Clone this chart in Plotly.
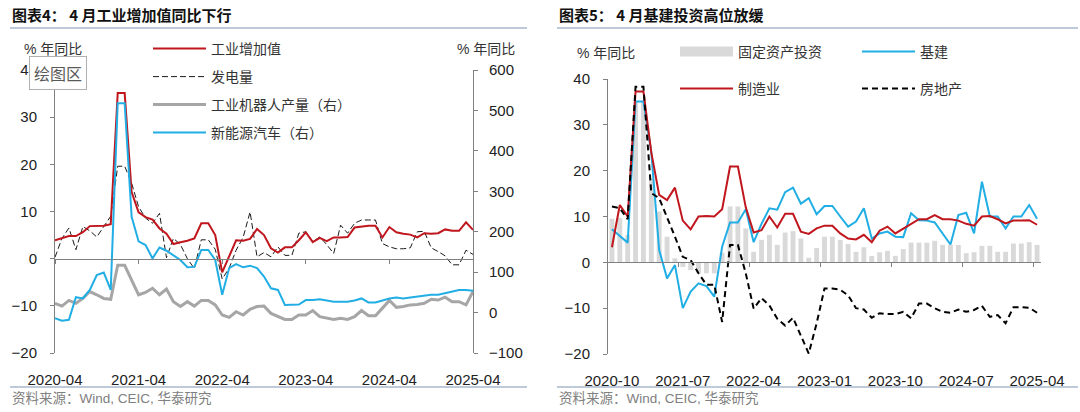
import plotly.graph_objects as go
import pandas as pd

W, H = 1080, 412

# ---------------- data: left chart (2020-04 .. 2025-04) ----------------
months_left = [p.strftime('%Y-%m') for p in pd.period_range('2020-04', '2025-04', freq='M')]
ticks_left = ['2020-04', '2021-04', '2022-04', '2023-04', '2024-04', '2025-04']

iva = [3.9, 4.4, 4.8, 4.8, 5.6, 6.9, 6.9, 7.0, 7.3,
       35.1, 35.1, 14.1, 9.8, 8.8, 8.3, 6.4, 5.3, 3.1, 3.5, 3.8, 4.3,
       7.5, 7.5, 5.0, -2.9, 0.7, 3.9, 3.8, 4.2, 6.3, 5.0, 2.2, 1.3,
       2.4, 2.4, 3.9, 5.6, 3.5, 4.4, 3.7, 4.5, 4.5, 4.6, 6.6, 6.8,
       7.0, 7.0, 4.5, 6.7, 5.6, 5.3, 5.1, 4.5, 5.4, 5.3, 5.4, 6.2,
       5.9, 5.9, 7.7, 6.1]
power = [0.3, 4.3, 6.5, 1.9, 6.8, 5.9, 4.6, 6.8, 9.0,
         19.6, 19.6, 16.0, 11.0, 8.6, 7.5, 9.6, 0.2, 4.3, 3.0, 0.0, -2.1,
         4.0, 4.0, 2.0, -4.3, -2.0, 1.8, 4.5, 9.9, 0.4, 1.3, 0.4, 2.5,
         0.7, 0.7, 5.4, 5.7, 3.6, 4.6, 3.0, 1.1, 7.1, 5.4, 7.5, 8.2,
         8.2, 8.2, 3.2, 2.5, 2.1, 2.1, 2.3, 5.7, 5.8, 2.3, 1.5, 0.6,
         -1.3, -1.3, 1.8, 0.9]
robot = [23, 16, 30, 23, 35, 52, 44, 35, 33,
         117, 117, 81, 44, 50, 60, 44, 58, 27, 15, 27, 16,
         30, 30, 19, -6, -12, 2, -6, 8, 15, 16, -2, -10,
         -17, -17, -6, -6, 5, -10, -14, -17, -14, -17, -10, 5,
         -8, -8, 11, 30, 13, 15, 19, 20, 23, 33, 31, 38,
         27, 27, 19, 52]
nev = [-14, -20, -18, 38, 35, 56, 93, 99, 56,
       518, 518, 237, 176, 167, 134, 161, 153, 142, 130, 112, 113,
       155, 155, 130, 44, 110, 120, 112, 116, 110, 89, 60, 56,
       19, 19, 20, 31, 31, 33, 30, 27, 27, 27, 30, 35,
       25, 25, 30, 35, 37, 35, 37, 39, 41, 44, 44, 48,
       52, 56, 56, 54]

# ---------------- data: right chart (2020-10 .. 2025-04) ----------------
months_right = [p.strftime('%Y-%m') for p in pd.period_range('2020-10', '2025-04', freq='M')]
ticks_right = ['2020-10', '2021-07', '2022-04', '2023-01', '2023-10', '2024-07', '2025-04']

fai = [9.5, 9.7, 6.0,
       35.0, 35.0, 18.3, 11.1, 5.6, 0.9, -1.0, -1.7, -2.4, -2.4, -2.4, 2.1,
       12.2, 12.2, 7.4, 2.3, 4.9, 6.0, 3.8, 6.5, 6.8, 5.2, 1.0, 3.1,
       5.6, 5.6, 4.9, 4.0, 2.3, 3.3, 1.4, 2.2, 2.5, 1.4, 2.9, 4.3,
       4.3, 4.3, 4.7, 3.8, 3.8, 3.8, 2.0, 2.2, 3.6, 3.6, 2.3, 2.3,
       4.1, 4.1, 4.4, 3.8]
infra = [7.2, 5.8, 4.3,
         35.1, 35.1, 24.0, 2.7, -3.5, -0.6, -10.0, -6.4, -4.6, -5.2, -7.5, 3.4,
         8.7, 8.7, 11.6, 4.4, 8.4, 11.8, 11.5, 15.3, 16.3, 12.8, 14.0, 10.5,
         12.3, 12.3, 10.0, 7.8, 8.9, 11.8, 5.2, 6.3, 6.7, 5.6, 5.5, 10.7,
         9.2, 9.1, 8.7, 6.3, 3.9, 10.3, 10.8, 6.3, 17.6, 10.0, 10.0, 7.4,
         10.0, 10.0, 12.5, 9.5]
mfg = [3.3, 12.5, 10.0,
       37.3, 37.3, 24.0, 14.7, 13.6, 16.3, 9.1, 7.2, 10.0, 10.1, 10.0, 11.6,
       20.9, 20.9, 12.0, 6.5, 7.0, 10.0, 7.6, 10.6, 10.6, 6.7, 6.2, 7.4,
       8.0, 8.0, 6.3, 5.2, 5.0, 6.0, 4.4, 6.9, 7.8, 6.3, 7.3, 8.3,
       9.4, 9.4, 10.3, 9.4, 9.4, 9.1, 8.4, 8.0, 10.0, 10.1, 9.4, 8.5,
       9.1, 9.1, 9.2, 8.2]
realestate = [12.2, 11.8, 9.4,
              38.3, 38.3, 15.1, 14.0, 10.0, 5.6, 1.2, 0.5, -2.4, -4.9, -4.9, -13.0,
              3.8, 3.8, -2.4, -10.1, -7.8, -9.4, -12.3, -13.8, -12.1, -16.0, -19.9, -13.3,
              -5.7, -5.7, -6.0, -7.2, -10.0, -10.3, -12.1, -11.1, -11.3, -11.3, -10.8, -12.2,
              -9.0, -9.0, -10.0, -10.8, -11.0, -10.3, -10.8, -10.4, -9.5, -11.9, -11.5, -13.3,
              -9.8, -9.8, -9.9, -11.0]

# ---------------- styling ----------------
RED = '#C0161D'
BLUE = '#21AEE4'
GRAY = '#A6A6A6'
BARC = '#D9D9D9'
AX = '#808080'
TXT = '#222222'
NUMF = 'Liberation Sans, Arial, sans-serif'
CJK = 'Noto Sans CJK SC, sans-serif'
MIX = 'Liberation Sans, Noto Sans CJK SC, sans-serif'
RULE = '#A9B8CC'

xl = list(range(len(months_left)))
xr = list(range(len(months_right)))
tv_left = [months_left.index(t) for t in ticks_left]
tv_right = [months_right.index(t) for t in ticks_right]


def px_x(p):
    return p / W


def px_y(p):
    return 1 - p / H


# domains
ly_dom = [px_y(353), px_y(70)]
lx_dom = [px_x(55), px_x(473)]
ry_dom = [px_y(354), px_y(79)]
rx_dom = [px_x(608), px_x(1041)]
zero_left = ly_dom[0] + (ly_dom[1] - ly_dom[0]) * (20 / 60)
zero_right = ry_dom[0] + (ry_dom[1] - ry_dom[0]) * (20 / 60)

fig = go.Figure()

# ----- left chart traces -----
fig.add_trace(go.Scatter(x=xl, y=power, mode='lines', name='发电量', legend='legend2',
                         line=dict(color='#1a1a1a', width=1, dash='6px,3px'), xaxis='x', yaxis='y'))
fig.add_trace(go.Scatter(x=xl, y=iva, mode='lines', name='工业增加值', legend='legend',
                         line=dict(color=RED, width=2), xaxis='x', yaxis='y'))
fig.add_trace(go.Scatter(x=xl, y=robot, mode='lines', name='工业机器人产量（右）', legend='legend3',
                         line=dict(color=GRAY, width=3), xaxis='x', yaxis='y2'))
fig.add_trace(go.Scatter(x=xl, y=nev, mode='lines', name='新能源汽车（右）', legend='legend4',
                         line=dict(color=BLUE, width=2), xaxis='x', yaxis='y2'))
# zero-axis helper trace (keeps overlay axis drawn)
fig.add_trace(go.Scatter(x=[None], y=[None], xaxis='x3', yaxis='y', showlegend=False, hoverinfo='skip'))

# ----- right chart traces -----
fig.add_trace(go.Bar(x=xr, y=fai, marker=dict(color=BARC, line=dict(width=0)), width=0.62,
                     showlegend=False, xaxis='x2', yaxis='y3', name='固定资产投资'))
fig.add_trace(go.Scatter(x=[None], y=[None], mode='lines', name='固定资产投资', legend='legend5',
                         line=dict(color=BARC, width=10), xaxis='x2', yaxis='y3'))
fig.add_trace(go.Scatter(x=xr, y=infra, mode='lines', name='基建', legend='legend6',
                         line=dict(color=BLUE, width=2), xaxis='x2', yaxis='y3'))
fig.add_trace(go.Scatter(x=xr, y=mfg, mode='lines', name='制造业', legend='legend7',
                         line=dict(color=RED, width=2), xaxis='x2', yaxis='y3'))
fig.add_trace(go.Scatter(x=xr, y=realestate, mode='lines', name='房地产', legend='legend8',
                         line=dict(color='#000000', width=2, dash='6px,4px'), xaxis='x2', yaxis='y3'))
fig.add_trace(go.Scatter(x=[None], y=[None], xaxis='x4', yaxis='y3', showlegend=False, hoverinfo='skip'))

tickfont = dict(family=NUMF, size=15, color=TXT)

yaxis_common = dict(showline=True, linecolor=AX, linewidth=1, ticks='outside', ticklen=4,
                    tickcolor=AX, tickwidth=1, showgrid=False, zeroline=False,
                    tickfont=tickfont, automargin=False)


def leg(xp, yp):
    return dict(x=px_x(xp), y=px_y(yp), xanchor='left', yanchor='middle',
                bgcolor='rgba(0,0,0,0)', borderwidth=0, itemwidth=53,
                font=dict(family=CJK, size=14, color='#333333'),
                itemclick=False, itemdoubleclick=False)


fig.update_layout(
    width=W, height=H, autosize=False,
    margin=dict(l=0, r=0, t=0, b=0, autoexpand=False),
    paper_bgcolor='white', plot_bgcolor='rgba(0,0,0,0)',
    hovermode=False,
    xaxis=dict(domain=lx_dom, anchor='y', range=[0, len(xl) - 1], showline=False, ticks='',
               tickvals=tv_left, ticktext=ticks_left, tickfont=tickfont, showgrid=False,
               zeroline=False, ticklabelstandoff=16, automargin=False),
    xaxis3=dict(overlaying='x', anchor='free', position=zero_left, range=[0, len(xl) - 1],
                showline=True, linecolor=AX, linewidth=1, ticks='outside', ticklen=4,
                tickcolor=AX, tickvals=tv_left, showticklabels=False, showgrid=False,
                zeroline=False, automargin=False),
    yaxis=dict(domain=ly_dom, anchor='x', range=[-20, 40], dtick=10, ticklabelstandoff=10,
               **yaxis_common),
    yaxis2=dict(overlaying='y', side='right', anchor='x', range=[-100, 600], dtick=100,
                ticklabelstandoff=8, **yaxis_common),
    xaxis2=dict(domain=rx_dom, anchor='y3', range=[-0.5, len(xr) - 0.5], showline=False, ticks='',
                tickvals=tv_right, ticktext=ticks_right, tickfont=tickfont, showgrid=False,
                zeroline=False, ticklabelstandoff=16, automargin=False),
    xaxis4=dict(overlaying='x2', anchor='free', position=zero_right,
                range=[-0.5, len(xr) - 0.5], showline=True, linecolor=AX, linewidth=1,
                ticks='outside', ticklen=4, tickcolor=AX,
                tickvals=[v - 0.5 for v in tv_right[1:]], showticklabels=False,
                showgrid=False, zeroline=False, automargin=False),
    yaxis3=dict(domain=ry_dom, anchor='x2', range=[-20, 40], dtick=10, ticklabelstandoff=10,
                **yaxis_common),
    legend=leg(148, 49),
    legend2=leg(148, 77),
    legend3=leg(148, 105),
    legend4=leg(148, 133),
    legend5=leg(675, 52),
    legend6=leg(857, 52),
    legend7=leg(675, 89),
    legend8=leg(857, 89),
)

ann = []
ann.append(dict(text='图表4： 4 月工业增加值同比下行', x=px_x(10), y=px_y(15), xref='paper', yref='paper',
                xanchor='left', yanchor='middle', showarrow=False,
                font=dict(family=CJK, size=15, color='#111111', weight='bold')))
ann.append(dict(text='图表5： 4 月基建投资高位放缓', x=px_x(557), y=px_y(15), xref='paper', yref='paper',
                xanchor='left', yanchor='middle', showarrow=False,
                font=dict(family=CJK, size=15, color='#111111', weight='bold')))
for xp, yp in [(22, 49), (455, 49), (575, 53)]:
    ann.append(dict(text='% 年同比', x=px_x(xp), y=px_y(yp), xref='paper', yref='paper',
                    xanchor='left', yanchor='middle', showarrow=False,
                    font=dict(family=MIX, size=14, color='#333333')))
for xp in [10, 557]:
    ann.append(dict(text='资料来源：Wind, CEIC, 华泰研究', x=px_x(xp), y=px_y(398), xref='paper', yref='paper',
                    xanchor='left', yanchor='middle', showarrow=False,
                    font=dict(family=MIX, size=13.5, color='#808080')))
ann.append(dict(text='绘图区', x=px_x(57.5), y=px_y(73), xref='paper', yref='paper',
                xanchor='center', yanchor='middle', showarrow=False,
                bgcolor='white', bordercolor='#B0B0B0', borderwidth=1, borderpad=4,
                font=dict(family=CJK, size=16, color='#595959')))
fig.update_layout(annotations=ann)

shapes = []
for x0, x1 in [(10, 527), (557, 1078)]:
    for yp in [28, 387]:
        shapes.append(dict(type='line', xref='paper', yref='paper', x0=px_x(x0), x1=px_x(x1),
                           y0=px_y(yp), y1=px_y(yp), line=dict(color=RULE, width=1.5)))
fig.update_layout(shapes=shapes)

fig.write_html('out.html', config={'displayModeBar': False, 'staticPlot': True},
               post_script="document.body.style.margin='0';document.body.style.overflow='hidden';")
